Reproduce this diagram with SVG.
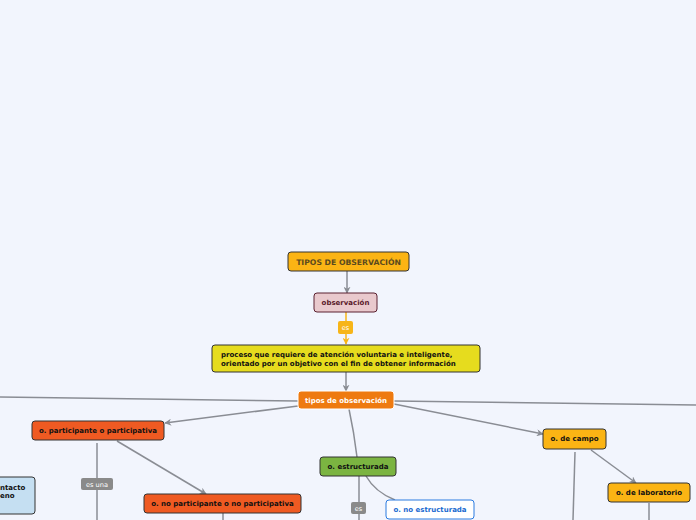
<svg xmlns="http://www.w3.org/2000/svg" width="696" height="520" viewBox="0 0 696 520">
<defs>
<style>
.t{font-family:"DejaVu Sans",Verdana,sans-serif;font-weight:bold;font-size:7px;text-anchor:middle;dominant-baseline:central}
.c{fill:none;stroke:#8a8d94;stroke-width:1.5}
.n{stroke:#333;stroke-width:1}
.lbl{font-family:"DejaVu Sans",Verdana,sans-serif;font-size:6.6px;text-anchor:middle;dominant-baseline:central;fill:#fff}
</style>
<marker id="ag" viewBox="0 0 10 10" refX="9" refY="5" markerWidth="7" markerHeight="7" markerUnits="userSpaceOnUse" orient="auto">
<path d="M0,0 L10,5 L0,10 L3,5 Z" fill="#8a8d94"/>
</marker>
<marker id="ao" viewBox="0 0 10 10" refX="9" refY="5" markerWidth="7" markerHeight="7" markerUnits="userSpaceOnUse" orient="auto">
<path d="M0,0 L10,5 L0,10 L3,5 Z" fill="#f7b518"/>
</marker>
</defs>
<rect width="696" height="520" fill="#f2f5fd"/>
<g id="connectors">
<line class="c" x1="347" y1="271" x2="347" y2="293" marker-end="url(#ag)"/>
<line x1="346" y1="312" x2="346" y2="344" stroke="#f7b518" stroke-width="1.5" marker-end="url(#ao)"/>
<line class="c" x1="346" y1="372" x2="346" y2="391" marker-end="url(#ag)"/>
<line class="c" x1="298" y1="401" x2="0" y2="397"/>
<line class="c" x1="298" y1="406" x2="165" y2="423" marker-end="url(#ag)"/>
<line class="c" x1="394" y1="401" x2="696" y2="405"/>
<line class="c" x1="394" y1="404" x2="543" y2="434" marker-end="url(#ag)"/>
<path class="c" d="M349,409 Q354,432 357,457"/>
<path class="c" d="M366,476 Q375,492 395,500"/>
<line class="c" x1="359" y1="476" x2="359" y2="520"/>
<line class="c" x1="97" y1="443" x2="97" y2="520"/>
<line class="c" x1="117" y1="441" x2="206" y2="494" marker-end="url(#ag)"/>
<line class="c" x1="223" y1="513" x2="223" y2="520"/>
<line class="c" x1="575" y1="452" x2="573" y2="520"/>
<line class="c" x1="591" y1="450" x2="636" y2="483" marker-end="url(#ag)"/>
<line class="c" x1="649" y1="503" x2="649" y2="520"/>
</g>
<g id="label-es1">
<rect x="338" y="321" width="15" height="13" rx="2" fill="#f7b518"/>
<text class="lbl" x="345.5" y="328" style="fill:#fff">es</text>
</g>
<g id="label-esuna">
<rect x="81" y="478" width="32" height="12" rx="2" fill="#8a8a8a"/>
<text class="lbl" x="97" y="484.5">es una</text>
</g>
<g id="label-es2">
<rect x="351" y="502" width="15" height="12" rx="2" fill="#8a8a8a"/>
<text class="lbl" x="358.5" y="508.5">es</text>
</g>
<g id="n-tipos-upper">
<rect class="n" x="288" y="252" width="121" height="19" rx="3" fill="#fbb414"/>
<text class="t" x="348.5" y="262" fill="#5b4a1f" style="font-size:7.7px">TIPOS DE OBSERVACIÓN</text>
</g>
<g id="n-observacion">
<rect x="314" y="293" width="63" height="19" rx="3" fill="#e9c9cd" stroke="#5a2030" stroke-width="1"/>
<text class="t" x="345.5" y="303" fill="#5a1a2a">observación</text>
</g>
<g id="n-proceso">
<rect class="n" x="212" y="345" width="268" height="27" rx="3" fill="#e6dc1e"/>
<text class="t" x="221" y="355" fill="#111" style="text-anchor:start">proceso que requiere de atención voluntaria e inteligente,</text>
<text class="t" x="221" y="364" fill="#111" style="text-anchor:start">orientado por un objetivo con el fin de obtener información</text>
</g>
<g id="n-tipos">
<rect x="298" y="391" width="96" height="18" rx="3" fill="#ee7a10" stroke="#fff" stroke-width="1"/>
<text class="t" x="346" y="400.5" fill="#fff">tipos de observación</text>
</g>
<g id="n-participante">
<rect class="n" x="32" y="421" width="132" height="19" rx="3" fill="#ef5a22"/>
<text class="t" x="98" y="431" fill="#111">o. participante o participativa</text>
</g>
<g id="n-no-participante">
<rect class="n" x="144" y="494" width="157" height="19" rx="3" fill="#ef5a22"/>
<text class="t" x="222.5" y="504" fill="#111">o. no participante o no participativa</text>
</g>
<g id="n-contacto">
<rect class="n" x="-40" y="477" width="75" height="37" rx="3" fill="#c5dff2"/>
<text class="t" x="0" y="488" fill="#111" style="text-anchor:start">ntacto</text>
<text class="t" x="0" y="496" fill="#111" style="text-anchor:start">eno</text>
</g>
<g id="n-estructurada">
<rect class="n" x="320" y="457" width="76" height="19" rx="3" fill="#7bb441"/>
<text class="t" x="358" y="467" fill="#111">o. estructurada</text>
</g>
<g id="n-no-estructurada">
<rect x="386" y="500" width="88" height="19" rx="3" fill="#fff" stroke="#2a7ae0" stroke-width="1"/>
<text class="t" x="430" y="510" fill="#1a6ad0">o. no estructurada</text>
</g>
<g id="n-campo">
<rect class="n" x="543" y="429" width="63" height="20" rx="3" fill="#fbb414"/>
<text class="t" x="574.5" y="439" fill="#111">o. de campo</text>
</g>
<g id="n-laboratorio">
<rect class="n" x="608" y="483" width="82" height="19" rx="3" fill="#fbb414"/>
<text class="t" x="649" y="493" fill="#111">o. de laboratorio</text>
</g>
</svg>
